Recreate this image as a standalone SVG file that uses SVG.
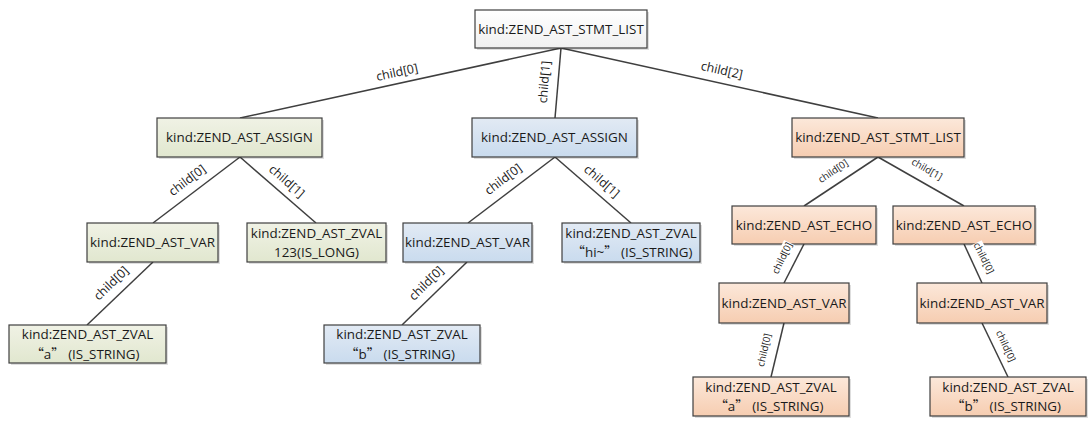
<svg xmlns="http://www.w3.org/2000/svg" width="1092" height="431" viewBox="0 0 1092 431">
<defs>
<linearGradient id="gW" x1="0" y1="0" x2="0" y2="1"><stop offset="0" stop-color="#ffffff"/><stop offset="1" stop-color="#f0f0f0"/></linearGradient>
<linearGradient id="gG" x1="0" y1="0" x2="0" y2="1"><stop offset="0" stop-color="#f0f2e5"/><stop offset="1" stop-color="#e1e7cf"/></linearGradient>
<linearGradient id="gB" x1="0" y1="0" x2="0" y2="1"><stop offset="0" stop-color="#e2eaf4"/><stop offset="1" stop-color="#c9dbee"/></linearGradient>
<linearGradient id="gO" x1="0" y1="0" x2="0" y2="1"><stop offset="0" stop-color="#fce8da"/><stop offset="1" stop-color="#f6cdb1"/></linearGradient>
</defs>
<style>
.sh{fill:#000;opacity:.13}
.bx{stroke:#3f3f3f;stroke-width:1.2}
.w{fill:url(#gW)} .g{fill:url(#gG)} .b{fill:url(#gB)} .o{fill:url(#gO)}
.t{font-family:"Open Sans","Liberation Sans",sans-serif;font-size:13.4px;fill:#1a1a1a;text-anchor:middle}
.q{font-family:"Noto Sans CJK SC","Open Sans",sans-serif}
.c line{stroke:#3f3f3f;stroke-width:1.5}
.l{font-family:"Open Sans","Liberation Sans",sans-serif;font-size:12.4px;fill:#1a1a1a;text-anchor:middle;dominant-baseline:central}
.s{font-size:9.8px}
.bg{fill:#ffffff}
</style>
<rect width="1092" height="431" fill="#ffffff"/>
<g id="connectors" class="c">
<line x1="561" y1="48" x2="240" y2="118"/>
<line x1="561" y1="48" x2="555" y2="118"/>
<line x1="561" y1="48" x2="878" y2="118"/>
<line x1="240" y1="157" x2="153" y2="223"/>
<line x1="240" y1="157" x2="316" y2="223"/>
<line x1="153" y1="262" x2="87" y2="325"/>
<line x1="555" y1="157" x2="468" y2="223"/>
<line x1="555" y1="157" x2="631" y2="223"/>
<line x1="467" y1="262" x2="402" y2="325"/>
<line x1="878" y1="157" x2="804" y2="206"/>
<line x1="878" y1="157" x2="964" y2="206"/>
<line x1="804" y1="244" x2="784" y2="283"/>
<line x1="784" y1="323" x2="771" y2="377"/>
<line x1="964" y1="244" x2="982" y2="283"/>
<line x1="982" y1="323" x2="1008" y2="377"/>
</g>
<g id="n-root"><rect class="sh" x="477" y="12" width="172" height="38"/><rect class="bx w" x="475" y="10" width="172" height="38"/><text class="t" x="561" y="33.5">kind:ZEND_AST_STMT_LIST</text></g>
<g id="n-assign1"><rect class="sh" x="159" y="120" width="165" height="39"/><rect class="bx g" x="157" y="118" width="165" height="39"/><text class="t" x="239.5" y="142">kind:ZEND_AST_ASSIGN</text></g>
<g id="n-assign2"><rect class="sh" x="474" y="120" width="165" height="39"/><rect class="bx b" x="472" y="118" width="165" height="39"/><text class="t" x="554.5" y="142">kind:ZEND_AST_ASSIGN</text></g>
<g id="n-stmtlist2"><rect class="sh" x="794" y="120" width="172" height="39"/><rect class="bx o" x="792" y="118" width="172" height="39"/><text class="t" x="878" y="142">kind:ZEND_AST_STMT_LIST</text></g>
<g id="n-var1"><rect class="sh" x="89" y="225" width="131" height="39"/><rect class="bx g" x="87" y="223" width="131" height="39"/><text class="t" x="152.5" y="247">kind:ZEND_AST_VAR</text></g>
<g id="n-zval123"><rect class="sh" x="249" y="225" width="139" height="39"/><rect class="bx g" x="247" y="223" width="139" height="39"/><text class="t" x="316.5" y="238">kind:ZEND_AST_ZVAL</text><text class="t" x="316.5" y="256.5">123(IS_LONG)</text></g>
<g id="n-zvala1"><rect class="sh" x="11" y="327" width="157" height="38"/><rect class="bx g" x="9" y="325" width="157" height="38"/><text class="t" x="87.5" y="339">kind:ZEND_AST_ZVAL</text><text class="t" x="85" y="358.5"><tspan class="q">“</tspan>a<tspan class="q">”</tspan> (IS_STRING)</text></g>
<g id="n-var2"><rect class="sh" x="405" y="225" width="129" height="39"/><rect class="bx b" x="403" y="223" width="129" height="39"/><text class="t" x="467.5" y="247">kind:ZEND_AST_VAR</text></g>
<g id="n-zvalhi"><rect class="sh" x="564" y="225" width="138" height="39"/><rect class="bx b" x="562" y="223" width="138" height="39"/><text class="t" x="631" y="238">kind:ZEND_AST_ZVAL</text><text class="t" x="632" y="257"><tspan class="q">“</tspan>hi~<tspan class="q">”</tspan> (IS_STRING)</text></g>
<g id="n-zvalb1"><rect class="sh" x="326" y="327" width="156" height="38"/><rect class="bx b" x="324" y="325" width="156" height="38"/><text class="t" x="402" y="339">kind:ZEND_AST_ZVAL</text><text class="t" x="400" y="358.5"><tspan class="q">“</tspan>b<tspan class="q">”</tspan> (IS_STRING)</text></g>
<g id="n-echo1"><rect class="sh" x="734" y="208" width="144" height="38"/><rect class="bx o" x="732" y="206" width="144" height="38"/><text class="t" x="804" y="229.5">kind:ZEND_AST_ECHO</text></g>
<g id="n-echo2"><rect class="sh" x="895" y="208" width="142" height="38"/><rect class="bx o" x="893" y="206" width="142" height="38"/><text class="t" x="964" y="229.5">kind:ZEND_AST_ECHO</text></g>
<g id="n-var3"><rect class="sh" x="721" y="285" width="130" height="40"/><rect class="bx o" x="719" y="283" width="130" height="40"/><text class="t" x="784" y="307.5">kind:ZEND_AST_VAR</text></g>
<g id="n-var4"><rect class="sh" x="919" y="285" width="130" height="40"/><rect class="bx o" x="917" y="283" width="130" height="40"/><text class="t" x="982" y="307.5">kind:ZEND_AST_VAR</text></g>
<g id="n-zvala2"><rect class="sh" x="695" y="379" width="156" height="39"/><rect class="bx o" x="693" y="377" width="156" height="39"/><text class="t" x="771" y="391.5">kind:ZEND_AST_ZVAL</text><text class="t" x="769" y="410.5"><tspan class="q">“</tspan>a<tspan class="q">”</tspan> (IS_STRING)</text></g>
<g id="n-zvalb2"><rect class="sh" x="932" y="379" width="156" height="39"/><rect class="bx o" x="930" y="377" width="156" height="39"/><text class="t" x="1008" y="391.5">kind:ZEND_AST_ZVAL</text><text class="t" x="1006" y="410.5"><tspan class="q">“</tspan>b<tspan class="q">”</tspan> (IS_STRING)</text></g>
<g id="connector-labels">
<text class="l" transform="translate(397,72) rotate(-12.3)">child[0]</text>
<text class="l" transform="translate(544,82) rotate(-85)">child[1]</text>
<text class="l" transform="translate(722,70) rotate(12.5)">child[2]</text>
<text class="l" transform="translate(187,180) rotate(-37)">child[0]</text>
<text class="l" transform="translate(287,181) rotate(41)">child[1]</text>
<text class="l" transform="translate(111,283) rotate(-44)">child[0]</text>
<text class="l" transform="translate(503,179) rotate(-37)">child[0]</text>
<text class="l" transform="translate(602,181) rotate(41)">child[1]</text>
<text class="l" transform="translate(426,283) rotate(-44.5)">child[0]</text>
<text class="l s" transform="translate(833,171) rotate(-34)">child[0]</text>
<text class="l s" transform="translate(927,169) rotate(29.5)">child[1]</text>
<g transform="translate(782,258) rotate(-64)"><rect class="bg" x="-17" y="-6" width="34" height="12"/><text class="l s">child[0]</text></g>
<text class="l s" transform="translate(764,350) rotate(-77.5)">child[0]</text>
<g transform="translate(984,258) rotate(63)"><rect class="bg" x="-17" y="-6" width="34" height="12"/><text class="l s">child[0]</text></g>
<text class="l s" transform="translate(1006,346) rotate(65)">child[0]</text>
</g>
</svg>
